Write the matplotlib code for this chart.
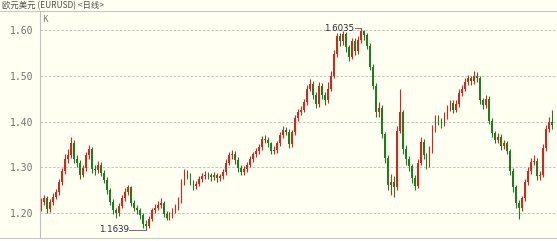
import matplotlib
matplotlib.use("Agg")
import matplotlib.pyplot as plt
from matplotlib.lines import Line2D

plt.rcParams['font.family'] = ['Noto Sans CJK SC', 'DejaVu Sans']

title = "欧元美元 (EURUSD) <日线>"
yticks = [1.20, 1.30, 1.40, 1.50, 1.60]
first_open = 1.215

# daily closes, read roughly every 3 px from the picture
closes = [
    1.225, 1.232, 1.208, 1.224, 1.236, 1.246, 1.268, 1.292, 1.318, 1.326,
    1.352, 1.318, 1.310, 1.284, 1.298, 1.326, 1.340, 1.296, 1.294, 1.306,
    1.288, 1.272, 1.250, 1.224, 1.206, 1.200, 1.216, 1.232, 1.246, 1.256,
    1.222, 1.212, 1.206, 1.196, 1.176, 1.172, 1.188, 1.206, 1.212, 1.218,
    1.222, 1.198, 1.190, 1.196, 1.206, 1.212, 1.228, 1.268, 1.288, 1.282,
    1.268, 1.258, 1.264, 1.274, 1.280, 1.284, 1.282, 1.278, 1.282, 1.276,
    1.280, 1.290, 1.310, 1.326, 1.330, 1.316, 1.298, 1.290, 1.296, 1.306,
    1.318, 1.328, 1.336, 1.344, 1.362, 1.360, 1.352, 1.336, 1.338, 1.352,
    1.370, 1.382, 1.378, 1.350, 1.376, 1.408, 1.420, 1.426, 1.442, 1.472,
    1.482, 1.458, 1.438, 1.478, 1.458, 1.446, 1.472, 1.500, 1.548, 1.586,
    1.576, 1.592, 1.562, 1.540, 1.576, 1.554, 1.578, 1.598, 1.588, 1.566,
    1.520, 1.478, 1.420, 1.430, 1.372, 1.320, 1.262, 1.268, 1.256, 1.380,
    1.420, 1.340, 1.318, 1.302, 1.276, 1.258, 1.310, 1.356, 1.326, 1.306,
    1.338, 1.384, 1.406, 1.400, 1.396, 1.412, 1.428, 1.440, 1.426, 1.438,
    1.462, 1.472, 1.486, 1.494, 1.488, 1.500, 1.496, 1.446, 1.436, 1.450,
    1.402, 1.374, 1.360, 1.366, 1.346, 1.352, 1.336, 1.292, 1.256, 1.222,
    1.210, 1.232, 1.268, 1.292, 1.312, 1.314, 1.280, 1.284, 1.342, 1.384,
    1.398, 1.392,
]
highs = [
    1.232, 1.240, 1.238, 1.230, 1.244, 1.252, 1.274, 1.298, 1.330, 1.340,
    1.366, 1.360, 1.326, 1.316, 1.306, 1.334, 1.348, 1.344, 1.304, 1.314,
    1.312, 1.294, 1.278, 1.254, 1.230, 1.212, 1.222, 1.240, 1.254, 1.262,
    1.260, 1.228, 1.218, 1.212, 1.200, 1.184, 1.194, 1.212, 1.220, 1.226,
    1.232, 1.226, 1.204, 1.202, 1.212, 1.220, 1.236, 1.274, 1.296, 1.294,
    1.288, 1.272, 1.270, 1.280, 1.288, 1.292, 1.290, 1.288, 1.290, 1.288,
    1.286, 1.296, 1.318, 1.334, 1.338, 1.336, 1.322, 1.304, 1.302, 1.312,
    1.324, 1.334, 1.342, 1.350, 1.368, 1.370, 1.366, 1.356, 1.346, 1.358,
    1.376, 1.390, 1.388, 1.384, 1.382, 1.414, 1.428, 1.434, 1.450, 1.480,
    1.492, 1.488, 1.464, 1.486, 1.484, 1.464, 1.486, 1.510, 1.556, 1.594,
    1.594, 1.598, 1.596, 1.568, 1.582, 1.582, 1.586, 1.6035, 1.600, 1.594,
    1.572, 1.526, 1.484, 1.442, 1.436, 1.378, 1.326, 1.286, 1.280, 1.390,
    1.470, 1.426, 1.348, 1.324, 1.308, 1.282, 1.318, 1.366, 1.362, 1.332,
    1.346, 1.392, 1.414, 1.414, 1.408, 1.420, 1.436, 1.448, 1.446, 1.446,
    1.470, 1.480, 1.494, 1.502, 1.500, 1.510, 1.508, 1.500, 1.452, 1.458,
    1.456, 1.408, 1.380, 1.374, 1.372, 1.360, 1.358, 1.340, 1.298, 1.262,
    1.228, 1.238, 1.274, 1.300, 1.320, 1.326, 1.320, 1.292, 1.350, 1.392,
    1.410, 1.426,
]
lows = [
    1.205, 1.218, 1.200, 1.203, 1.218, 1.230, 1.240, 1.262, 1.286, 1.310,
    1.320, 1.310, 1.300, 1.274, 1.278, 1.292, 1.318, 1.288, 1.284, 1.288,
    1.280, 1.266, 1.242, 1.218, 1.198, 1.190, 1.194, 1.210, 1.226, 1.240,
    1.216, 1.204, 1.198, 1.188, 1.168, 1.1639, 1.168, 1.182, 1.200, 1.206,
    1.212, 1.192, 1.184, 1.184, 1.190, 1.200, 1.206, 1.222, 1.262, 1.274,
    1.262, 1.250, 1.252, 1.258, 1.268, 1.274, 1.274, 1.270, 1.272, 1.268,
    1.270, 1.274, 1.284, 1.304, 1.318, 1.308, 1.290, 1.282, 1.284, 1.290,
    1.300, 1.312, 1.322, 1.330, 1.338, 1.352, 1.344, 1.328, 1.328, 1.332,
    1.346, 1.364, 1.370, 1.342, 1.344, 1.370, 1.402, 1.414, 1.420, 1.436,
    1.466, 1.450, 1.430, 1.432, 1.450, 1.436, 1.440, 1.466, 1.494, 1.540,
    1.566, 1.568, 1.552, 1.532, 1.536, 1.546, 1.548, 1.572, 1.578, 1.558,
    1.512, 1.470, 1.410, 1.410, 1.364, 1.310, 1.250, 1.240, 1.234, 1.250,
    1.374, 1.330, 1.306, 1.292, 1.266, 1.250, 1.254, 1.304, 1.318, 1.296,
    1.300, 1.332, 1.378, 1.392, 1.386, 1.390, 1.406, 1.422, 1.418, 1.420,
    1.432, 1.456, 1.466, 1.480, 1.480, 1.482, 1.486, 1.438, 1.428, 1.430,
    1.394, 1.366, 1.352, 1.354, 1.338, 1.340, 1.328, 1.284, 1.246, 1.212,
    1.188, 1.204, 1.226, 1.262, 1.286, 1.304, 1.272, 1.272, 1.278, 1.336,
    1.378, 1.384,
]
opens = [first_open] + closes[:-1]
idx = list(range(len(closes)))

up_col = "#d2281a"
dn_col = "#1e7e1e"
bg = "#fffff2"

W, H = 557, 241
fig = plt.figure(figsize=(W / 100, H / 100), dpi=100, facecolor=bg)
ax = fig.add_axes([40 / W, 3 / H, (W - 40) / W, 227 / H], facecolor=bg)

for i in idx:
    o, c = opens[i], closes[i]
    col = up_col if c >= o else dn_col
    ax.vlines(i, lows[i], highs[i], color=col, lw=0.8)
    ax.bar(i, max(abs(c - o), 0.0015), bottom=min(o, c), width=0.6,
           color=col, linewidth=0)

ax.set_xlim(-0.33, len(closes) + 0.67)
ax.set_ylim(1.1454, 1.6415)
ax.set_yticks(yticks)
ax.set_yticklabels(["%.2f" % v for v in yticks], family="DejaVu Sans Mono",
                   fontsize=7, color="#707070")
ax.tick_params(axis="y", length=0, pad=5)
ax.set_xticks([])
for s in ax.spines.values():
    s.set_visible(False)
for v in yticks:
    ax.axhline(v, color="#b8b8b8", lw=0.6, ls=(0, (3, 2)), zorder=0)

# extreme labels
hi_i = highs.index(max(highs))
lo_i = lows.index(min(lows))
ax.plot([hi_i - 2.0, hi_i], [max(highs), max(highs)], color="#707070", lw=0.7)
ax.text(hi_i - 2.2, max(highs), "%.4f" % max(highs), ha="right", va="center",
        fontsize=6.2, color="#2a2a3a", family="DejaVu Sans")
ax.plot([lo_i - 5.5, lo_i], [min(lows), min(lows)], color="#707070", lw=0.7)
ax.text(lo_i - 5.7, min(lows), "%.4f" % min(lows), ha="right", va="center",
        fontsize=6.2, color="#2a2a3a", family="DejaVu Sans")

# frame lines of the panel
fig.add_artist(Line2D([0, 1], [1 - 11 / H, 1 - 11 / H], color="#c8c8c8", lw=0.8))
fig.add_artist(Line2D([0, 1], [3 / H, 3 / H], color="#c8c8c8", lw=0.8))
fig.add_artist(Line2D([40 / W, 40 / W], [3 / H, 1 - 11 / H], color="#c0c0c0", lw=0.8))

fig.text(2 / W, 1 - 5.5 / H, title, fontsize=6, color="#505050", va="center", ha="left")
fig.text(42 / W, 1 - 20 / H, "K", fontsize=6, color="#707070", va="center", ha="left")

fig.savefig("out.png", dpi=100, facecolor=bg)
